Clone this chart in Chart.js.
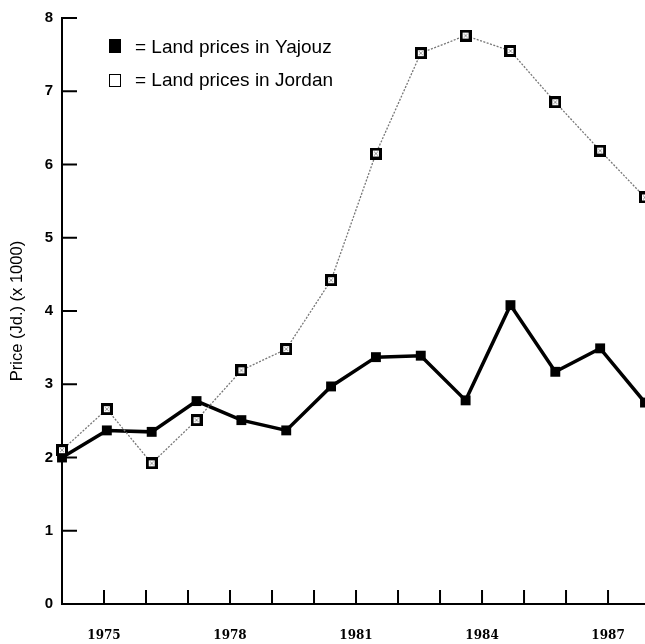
<!DOCTYPE html>
<html lang="en">
<head>
  <meta charset="UTF-8" />
  <title>Land prices</title>
  <script src="https://cdn.jsdelivr.net/npm/chart.js"></script>
  <style>
    body {
      margin: 0;
      background: #fff;
    }
    .caja {
      width: 645px;
      height: 644px;
      position: relative;
    }
  </style>
</head>
<body>

<div class="caja"><canvas id="graficoPrecios"></canvas></div>

<script>
  // datos
  const years = ['1974', '1975', '1976', '1977', '1978', '1979', '1980',
                 '1981', '1982', '1983', '1984', '1985', '1986', '1987'];
  const yajouz = [2.0, 2.37, 2.35, 2.77, 2.51, 2.37, 2.97, 3.37, 3.39, 2.78, 4.08, 3.17, 3.49, 2.75];
  const jordan = [2.10, 2.66, 1.92, 2.51, 3.19, 3.48, 4.42, 6.15, 7.52, 7.76, 7.55, 6.85, 6.19, 5.55];
  const yearLabels = [1975, 1978, 1981, 1984, 1987];

  const sans = '"Liberation Sans", Arial, Helvetica, sans-serif';

  // marcador de Jordan: cuadro negro con relleno claro
  const marca = document.createElement('canvas');
  marca.width = 12;
  marca.height = 12;
  (function () {
    const c = marca.getContext('2d');
    c.fillStyle = '#000';
    c.fillRect(0, 0, 12, 12);
    c.fillStyle = '#fff';
    c.fillRect(3, 3, 6, 6);
    c.fillStyle = '#9a9a9a';
    c.fillRect(4, 4, 1, 1);
    c.fillRect(7, 4, 1, 1);
    c.fillRect(5, 5, 2, 2);
    c.fillRect(4, 7, 1, 1);
    c.fillRect(7, 7, 1, 1);
  })();

  // marcas de los ejes hacia dentro
  const innerTicks = {
    id: 'innerTicks',
    beforeDatasetsDraw(chart) {
      const ctx = chart.ctx;
      const { left, bottom } = chart.chartArea;
      const sx = chart.scales.xYears;
      const sy = chart.scales.y;
      ctx.save();
      ctx.strokeStyle = '#000';
      ctx.lineWidth = 2;
      ctx.beginPath();
      sy.ticks.forEach(t => {
        const p = sy.getPixelForValue(t.value);
        ctx.moveTo(left, p);
        ctx.lineTo(left + 15, p);
      });
      sx.ticks.forEach(t => {
        if (t.value % 1 !== 0) return;
        const p = sx.getPixelForValue(t.value);
        ctx.moveTo(p, bottom);
        ctx.lineTo(p, bottom - 14);
      });
      ctx.stroke();
      ctx.restore();
    }
  };

  // leyenda dentro del area
  const legendBox = {
    id: 'legendBox',
    afterDraw(chart) {
      const ctx = chart.ctx;
      const rows = [53, 86];
      ctx.save();
      ctx.font = '19px ' + sans;
      ctx.fillStyle = '#000';
      ctx.strokeStyle = '#000';
      ctx.lineWidth = 1;
      chart.data.datasets.forEach((ds, i) => {
        const y = rows[i];
        if (i === 0) {
          ctx.fillRect(109, y - 14, 12, 14);
        } else {
          ctx.strokeRect(109.5, y - 11.5, 11, 12);
        }
        ctx.fillText('= ' + ds.label, 135, y);
      });
      ctx.restore();
    }
  };

  new Chart(document.getElementById('graficoPrecios').getContext('2d'), {
    type: 'line',
    data: {
      labels: years,
      datasets: [
        {
          label: 'Land prices in Yajouz',
          data: yajouz,
          borderColor: '#000',
          backgroundColor: '#000',
          borderWidth: 3.5,
          pointStyle: 'rect',
          pointRadius: 7,
          pointBorderWidth: 0,
          tension: 0,
          clip: false,
          order: 1
        },
        {
          label: 'Land prices in Jordan',
          data: jordan,
          borderColor: '#777',
          borderWidth: 1.3,
          borderDash: [2, 1.5],
          pointStyle: marca,
          pointRadius: 6,
          tension: 0,
          clip: false,
          order: 0
        }
      ]
    },
    options: {
      responsive: true,
      maintainAspectRatio: false,
      animation: false,
      layout: {
        autoPadding: false,
        padding: { top: 16, left: 0, right: 0, bottom: 0 }
      },
      plugins: {
        legend: { display: false },
        tooltip: { enabled: false }
      },
      scales: {
        x: {
          type: 'category',
          display: false,
          offset: false
        },
        xYears: {
          type: 'linear',
          position: 'bottom',
          min: 1974,
          max: 1987.88,
          afterFit: s => {
            s.height = 40;
            s.paddingLeft = 0;
            s.paddingRight = 0;
          },
          grid: { drawOnChartArea: false, drawTicks: false },
          border: { display: true, color: '#000', width: 2 },
          ticks: {
            stepSize: 1,
            includeBounds: false,
            autoSkip: false,
            maxRotation: 0,
            padding: 25,
            color: '#000',
            font: { family: '"DejaVu Serif", serif', size: 12, weight: 'bold' },
            callback: v => yearLabels.includes(v) ? String(v) : ''
          }
        },
        y: {
          min: 0,
          max: 8,
          afterFit: s => { s.width = 62; },
          grid: { drawOnChartArea: false, drawTicks: false },
          border: { display: true, color: '#000', width: 2 },
          ticks: {
            stepSize: 1,
            padding: 9,
            color: '#000',
            font: { family: sans, size: 15, weight: 'bold' }
          },
          title: {
            display: true,
            text: 'Price (Jd.) (x 1000)',
            color: '#000',
            font: { family: sans, size: 16.5 },
            padding: { top: 8, bottom: 0 }
          }
        }
      }
    },
    plugins: [innerTicks, legendBox]
  });
</script>

</body>
</html>
